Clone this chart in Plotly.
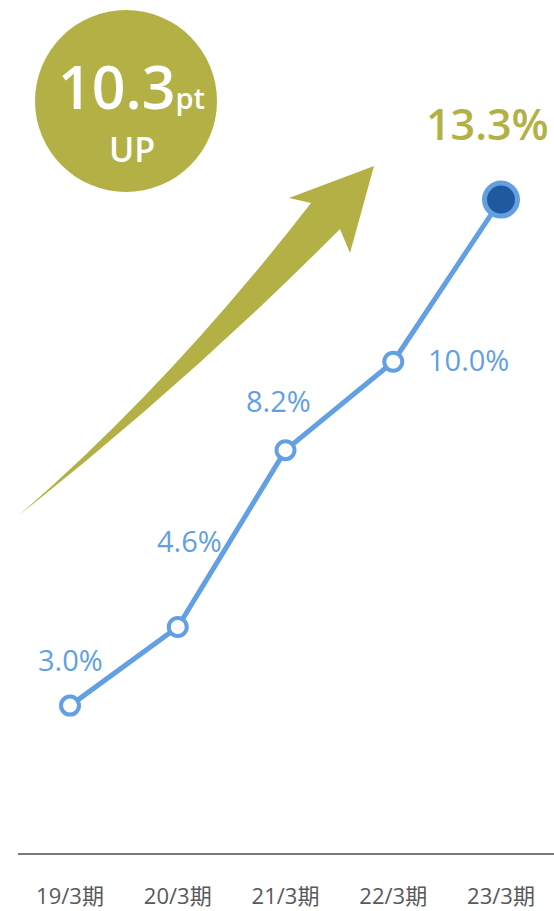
import plotly.graph_objects as go

# Operating margin by fiscal period (%)
periods = ["19/3期", "20/3期", "21/3期", "22/3期", "23/3期"]
margin_pct = [3.0, 4.6, 8.2, 10.0, 13.3]
gain_pt = 10.3

# Label offsets (px) from each point
label_dx = [0, 12, -7, 75, -14]
label_dy = [46, 87, 50, 2, 76]

BLUE = "#629FE3"
NAVY = "#1F5A9E"
OLIVE = "#B3B145"
GREY = "#595959"
FONT = "Open Sans, Noto Sans CJK JP, sans-serif"

W, H = 554, 911
ML, MR, MT, MB = 18, 0, 0, 58
PW, PH = W - ML - MR, H - MT - MB


def px(x, y):
    """Pixel position -> paper coordinates."""
    return (x - ML) / PW, (H - MB - y) / PH


def pt(x, y):
    a, b = px(x, y)
    return f"{a:.5f},{b:.5f}"


fig = go.Figure()

n = len(periods)
fig.add_trace(go.Scatter(
    x=periods, y=margin_pct, mode="lines",
    line=dict(color=BLUE, width=5),
    cliponaxis=False, hoverinfo="skip", showlegend=False,
))
fig.add_trace(go.Scatter(
    x=periods[:-1], y=margin_pct[:-1], mode="markers",
    marker=dict(size=18, color="#FFFFFF", opacity=1,
                line=dict(color=BLUE, width=4)),
    opacity=1, cliponaxis=False, hoverinfo="skip", showlegend=False,
))
fig.add_trace(go.Scatter(
    x=periods[-1:], y=margin_pct[-1:], mode="markers",
    marker=dict(size=33, color=NAVY, opacity=1,
                line=dict(color=BLUE, width=5)),
    opacity=1, cliponaxis=False, hoverinfo="skip", showlegend=False,
))

# Value labels
for i, (p, v) in enumerate(zip(periods, margin_pct)):
    last = i == n - 1
    fig.add_annotation(
        x=p, y=v, xref="x", yref="y",
        text=f"{v:.1f}%", showarrow=False,
        xshift=label_dx[i], yshift=label_dy[i],
        xanchor="center", yanchor="middle",
        font=dict(family=FONT, size=43 if last else 29,
                  weight=600 if last else 400,
                  color=OLIVE if last else BLUE),
    )

# Curved growth arrow: two quadratic edges meeting at the tail, plus the head
arrow_path = (
    f"M {pt(18, 516)} Q {pt(170, 385)} {pt(311, 203)} "
    f"L {pt(289, 198)} L {pt(374, 166)} L {pt(350, 253)} L {pt(340, 229)} "
    f"Q {pt(190, 380)} {pt(18, 516)} Z"
)
fig.add_shape(type="path", xref="paper", yref="paper", path=arrow_path,
              fillcolor=OLIVE, line=dict(width=0), layer="below")

# Badge circle
cx0, cy0 = px(35, 192)
cx1, cy1 = px(217, 10)
fig.add_shape(type="circle", xref="paper", yref="paper",
              x0=cx0, y0=cy0, x1=cx1, y1=cy1,
              fillcolor=OLIVE, line=dict(width=0), layer="below")

bx, by = px(131, 86)
fig.add_annotation(
    x=bx, y=by, xref="paper", yref="paper", showarrow=False,
    text=f"{gain_pt:.1f}<span style='font-size:29px'>pt</span>",
    xanchor="center", yanchor="middle",
    font=dict(family=FONT, size=59, weight=600, color="white"),
)
ux, uy = px(132, 149)
fig.add_annotation(
    x=ux, y=uy, xref="paper", yref="paper", showarrow=False,
    text="UP", xanchor="center", yanchor="middle",
    font=dict(family=FONT, size=34, weight=600, color="white"),
)

x_step = 107.75
x0 = -(70 - ML) / x_step
fig.update_xaxes(
    type="category", range=[x0, x0 + PW / x_step], automargin=False,
    showline=True, linecolor="#7A7A7A", linewidth=2,
    ticks="outside", ticklen=23, tickcolor="rgba(0,0,0,0)",
    showgrid=False, zeroline=False,
    tickfont=dict(family=FONT, size=22, color=GREY),
)
y_scale = 506 / (margin_pct[-1] - margin_pct[0])
fig.update_yaxes(range=[0, PH / y_scale], visible=False, automargin=False,
                 showgrid=False, zeroline=False)

fig.update_layout(
    width=W, height=H,
    margin=dict(l=ML, r=MR, t=MT, b=MB, pad=0, autoexpand=False),
    paper_bgcolor="white", plot_bgcolor="white",
    font=dict(family=FONT),
)

fig.write_html("out.html")
